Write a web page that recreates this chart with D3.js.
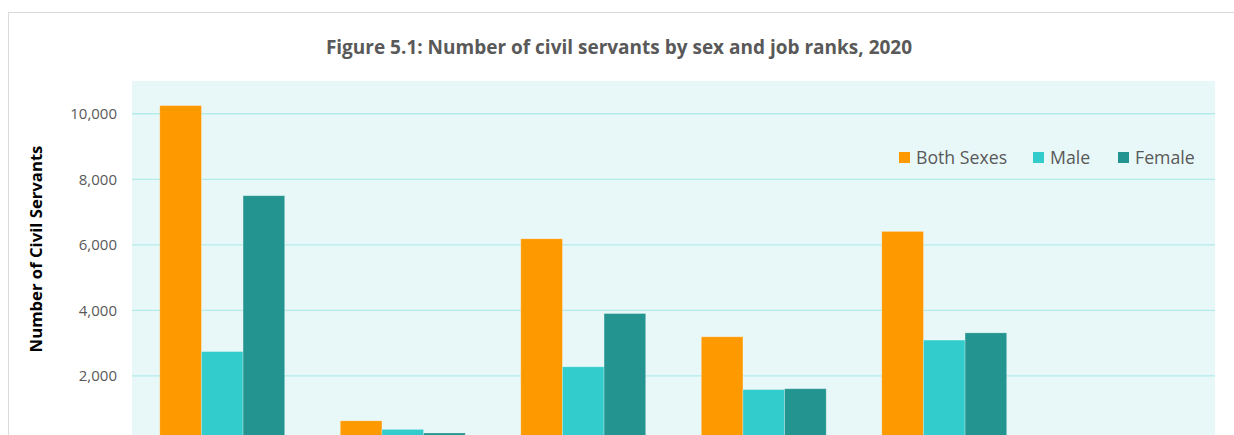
<!DOCTYPE html>
<html>
<head>
<meta charset="utf-8">
<script src="https://cdn.jsdelivr.net/npm/d3@7"></script>
<style>
  body { margin: 0; background: #fff; overflow: hidden; }
  text { font-family: "Open Sans", "Noto Sans", sans-serif; }
</style>
</head>
<body>
<div id="chart"></div>
<script>
// job ranks (labels sit below the visible area)
const categories = ["Rank A", "Rank B", "Rank C", "Rank D", "Rank E", "Rank F"];
const seriesNames = ["Both Sexes", "Male", "Female"];
const bothSexes = [10250, 630, 6185, 3195, 6410, null];
const male = [2745, 370, 2280, 1585, 3095, null];
const female = [7500, 260, 3905, 1610, 3315, null];
const yTicks = [2000, 4000, 6000, 8000, 10000];
const colors = ["#ff9900", "#33cccc", "#249490"];

const W = 1234, H = 435;
const plot = { left: 132, right: 1215, top: 81, bottom: 441.5 };

const svg = d3.select("#chart").append("svg")
  .attr("width", W)
  .attr("height", H);

// outer chart border
svg.append("rect")
  .attr("x", 8.5).attr("y", 12.5)
  .attr("width", 1300).attr("height", 600)
  .attr("fill", "#fff")
  .attr("stroke", "#d9d9d9");

// plot area background
svg.append("rect")
  .attr("x", plot.left).attr("y", plot.top)
  .attr("width", plot.right - plot.left).attr("height", plot.bottom - plot.top)
  .attr("fill", "#e8f8f8");

const x0 = d3.scaleBand()
  .domain(categories)
  .range([plot.left, plot.right]);

const gap = x0.bandwidth() * 0.154;
const x1 = d3.scaleBand()
  .domain(seriesNames)
  .range([gap, x0.bandwidth() - gap]);

const y = d3.scaleLinear()
  .domain([0, 11000])
  .range([plot.bottom, plot.top]);

// gridlines
svg.append("g")
  .selectAll("line")
  .data(yTicks)
  .join("line")
  .attr("x1", plot.left).attr("x2", plot.right)
  .attr("y1", d => y(d)).attr("y2", d => y(d))
  .attr("stroke", "#b3ebeb")
  .attr("stroke-width", 1.3);

// y axis tick labels
svg.append("g")
  .selectAll("text")
  .data(yTicks)
  .join("text")
  .attr("x", 117)
  .attr("y", d => y(d))
  .attr("dy", "0.35em")
  .attr("text-anchor", "end")
  .attr("fill", "#595959")
  .style("font-size", "15px")
  .text(d3.format(","));

// bars
const rows = categories.map((c, i) => ({
  cat: c,
  vals: [bothSexes[i], male[i], female[i]]
}));

const groups = svg.append("g")
  .selectAll("g")
  .data(rows)
  .join("g")
  .attr("transform", d => `translate(${x0(d.cat)},0)`);

groups.selectAll("rect")
  .data(d => d.vals.map((v, j) => ({ key: seriesNames[j], v, j })).filter(e => e.v != null))
  .join("rect")
  .attr("x", d => x1(d.key))
  .attr("y", d => y(d.v))
  .attr("width", x1.bandwidth())
  .attr("height", d => plot.bottom - y(d.v))
  .attr("fill", d => colors[d.j])
  .attr("stroke", "rgba(255,255,255,0.35)")
  .attr("stroke-width", 0.75);

// title
svg.append("text")
  .attr("x", 619)
  .attr("y", 54)
  .attr("text-anchor", "middle")
  .attr("fill", "#595959")
  .style("font-size", "19px")
  .style("font-weight", "bold")
  .text("Figure 5.1: Number of civil servants by sex and job ranks, 2020");

// y axis label
svg.append("text")
  .attr("transform", "translate(42,249) rotate(-90)")
  .attr("text-anchor", "middle")
  .attr("fill", "#000")
  .style("font-size", "16.7px")
  .style("font-weight", "bold")
  .text("Number of Civil Servants");

// legend
const legendX = [899, 1033, 1118];
const legend = svg.append("g")
  .selectAll("g")
  .data(seriesNames)
  .join("g")
  .attr("transform", (d, i) => `translate(${legendX[i]},152)`);

legend.append("rect")
  .attr("width", 11).attr("height", 11)
  .attr("fill", (d, i) => colors[i]);

legend.append("text")
  .attr("x", 17)
  .attr("y", 5.5)
  .attr("dy", "0.35em")
  .attr("fill", "#595959")
  .style("font-size", "17.7px")
  .text(d => d);
</script>
</body>
</html>
